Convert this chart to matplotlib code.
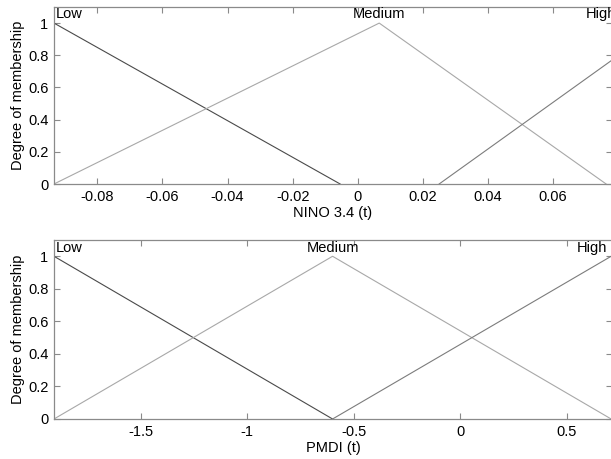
"""Fuzzy membership functions for NINO 3.4 and PMDI inputs."""

import matplotlib
matplotlib.use("Agg")
import matplotlib.pyplot as plt

plt.rcParams["font.family"] = ["Liberation Sans", "DejaVu Sans"]

# NINO 3.4 (t) membership vertices (x, degree)
NINO_XLIM = (-0.0933, 0.0781)
NINO_LOW_X = [-0.0933, -0.0054]
NINO_LOW_Y = [1.0, 0.0]
NINO_MED_X = [-0.0933, 0.0066, 0.0763]
NINO_MED_Y = [0.0, 1.0, 0.0]
NINO_HIGH_X = [0.025, 0.0781]
NINO_HIGH_Y = [0.0, 0.77]
NINO_TICKS = [-0.08, -0.06, -0.04, -0.02, 0, 0.02, 0.04, 0.06]
NINO_TICKLABELS = ["-0.08", "-0.06", "-0.04", "-0.02", "0", "0.02", "0.04", "0.06"]

# PMDI (t) membership vertices
PMDI_XLIM = (-1.906, 0.712)
PMDI_LOW_X = [-1.906, -0.599]
PMDI_LOW_Y = [1.0, 0.0]
PMDI_MED_X = [-1.906, -0.599, 0.708]
PMDI_MED_Y = [0.0, 1.0, 0.0]
PMDI_HIGH_X = [-0.599, 0.708]
PMDI_HIGH_Y = [0.0, 1.0]
PMDI_TICKS = [-1.5, -1, -0.5, 0, 0.5]
PMDI_TICKLABELS = ["-1.5", "-1", "-0.5", "0", "0.5"]

Y_TICKS = [0, 0.2, 0.4, 0.6, 0.8, 1]
Y_TICKLABELS = ["0", "0.2", "0.4", "0.6", "0.8", "1"]

C_LOW = "#4a4a4a"
C_MED = "#a8a8a8"
C_HIGH = "#7c7c7c"
C_AXIS = "#8a8a8a"
FS = 10.5


def style_axes(ax, xlim, ticks, ticklabels, xlabel):
    ax.set_xlim(*xlim)
    ax.set_ylim(0, 1.1)
    ax.set_xticks(ticks)
    ax.set_xticklabels(ticklabels, fontsize=FS)
    ax.set_yticks(Y_TICKS)
    ax.set_yticklabels(Y_TICKLABELS, fontsize=FS)
    ax.tick_params(direction="in", length=4, width=0.8, color=C_AXIS,
                   top=True, right=True, pad=4)
    for sp in ax.spines.values():
        sp.set_color(C_AXIS)
        sp.set_linewidth(0.9)
    ax.set_xlabel(xlabel, fontsize=FS, labelpad=2)
    ax.set_ylabel("Degree of membership", fontsize=FS, labelpad=2)


fig = plt.figure(figsize=(6.11, 4.59), dpi=100)
ax1 = fig.add_axes([54 / 611, 1 - 184 / 459, 558 / 611, 177 / 459])
ax2 = fig.add_axes([54 / 611, 1 - 419 / 459, 558 / 611, 179 / 459])

# top panel
ax1.plot(NINO_LOW_X, NINO_LOW_Y, color=C_LOW, lw=0.8)
ax1.plot(NINO_MED_X, NINO_MED_Y, color=C_MED, lw=0.8)
ax1.plot(NINO_HIGH_X, NINO_HIGH_Y, color=C_HIGH, lw=0.8)
style_axes(ax1, NINO_XLIM, NINO_TICKS, NINO_TICKLABELS, "NINO 3.4 (t)")
ax1.text(NINO_XLIM[0] + 0.0005, 1.01, "Low", fontsize=FS, ha="left", va="bottom")
ax1.text(NINO_MED_X[1], 1.01, "Medium", fontsize=FS, ha="center", va="bottom")
ax1.text(0.0701, 1.01, "High", fontsize=FS, ha="left", va="bottom", clip_on=False)

# bottom panel
ax2.plot(PMDI_LOW_X, PMDI_LOW_Y, color=C_LOW, lw=0.8)
ax2.plot(PMDI_MED_X, PMDI_MED_Y, color=C_MED, lw=0.8)
ax2.plot(PMDI_HIGH_X, PMDI_HIGH_Y, color=C_HIGH, lw=0.8)
style_axes(ax2, PMDI_XLIM, PMDI_TICKS, PMDI_TICKLABELS, "PMDI (t)")
ax2.text(PMDI_XLIM[0] + 0.01, 1.01, "Low", fontsize=FS, ha="left", va="bottom")
ax2.text(PMDI_MED_X[1], 1.01, "Medium", fontsize=FS, ha="center", va="bottom")
ax2.text(PMDI_HIGH_X[1] - 0.02, 1.01, "High", fontsize=FS, ha="right", va="bottom")

fig.savefig("out.png", dpi=100)
